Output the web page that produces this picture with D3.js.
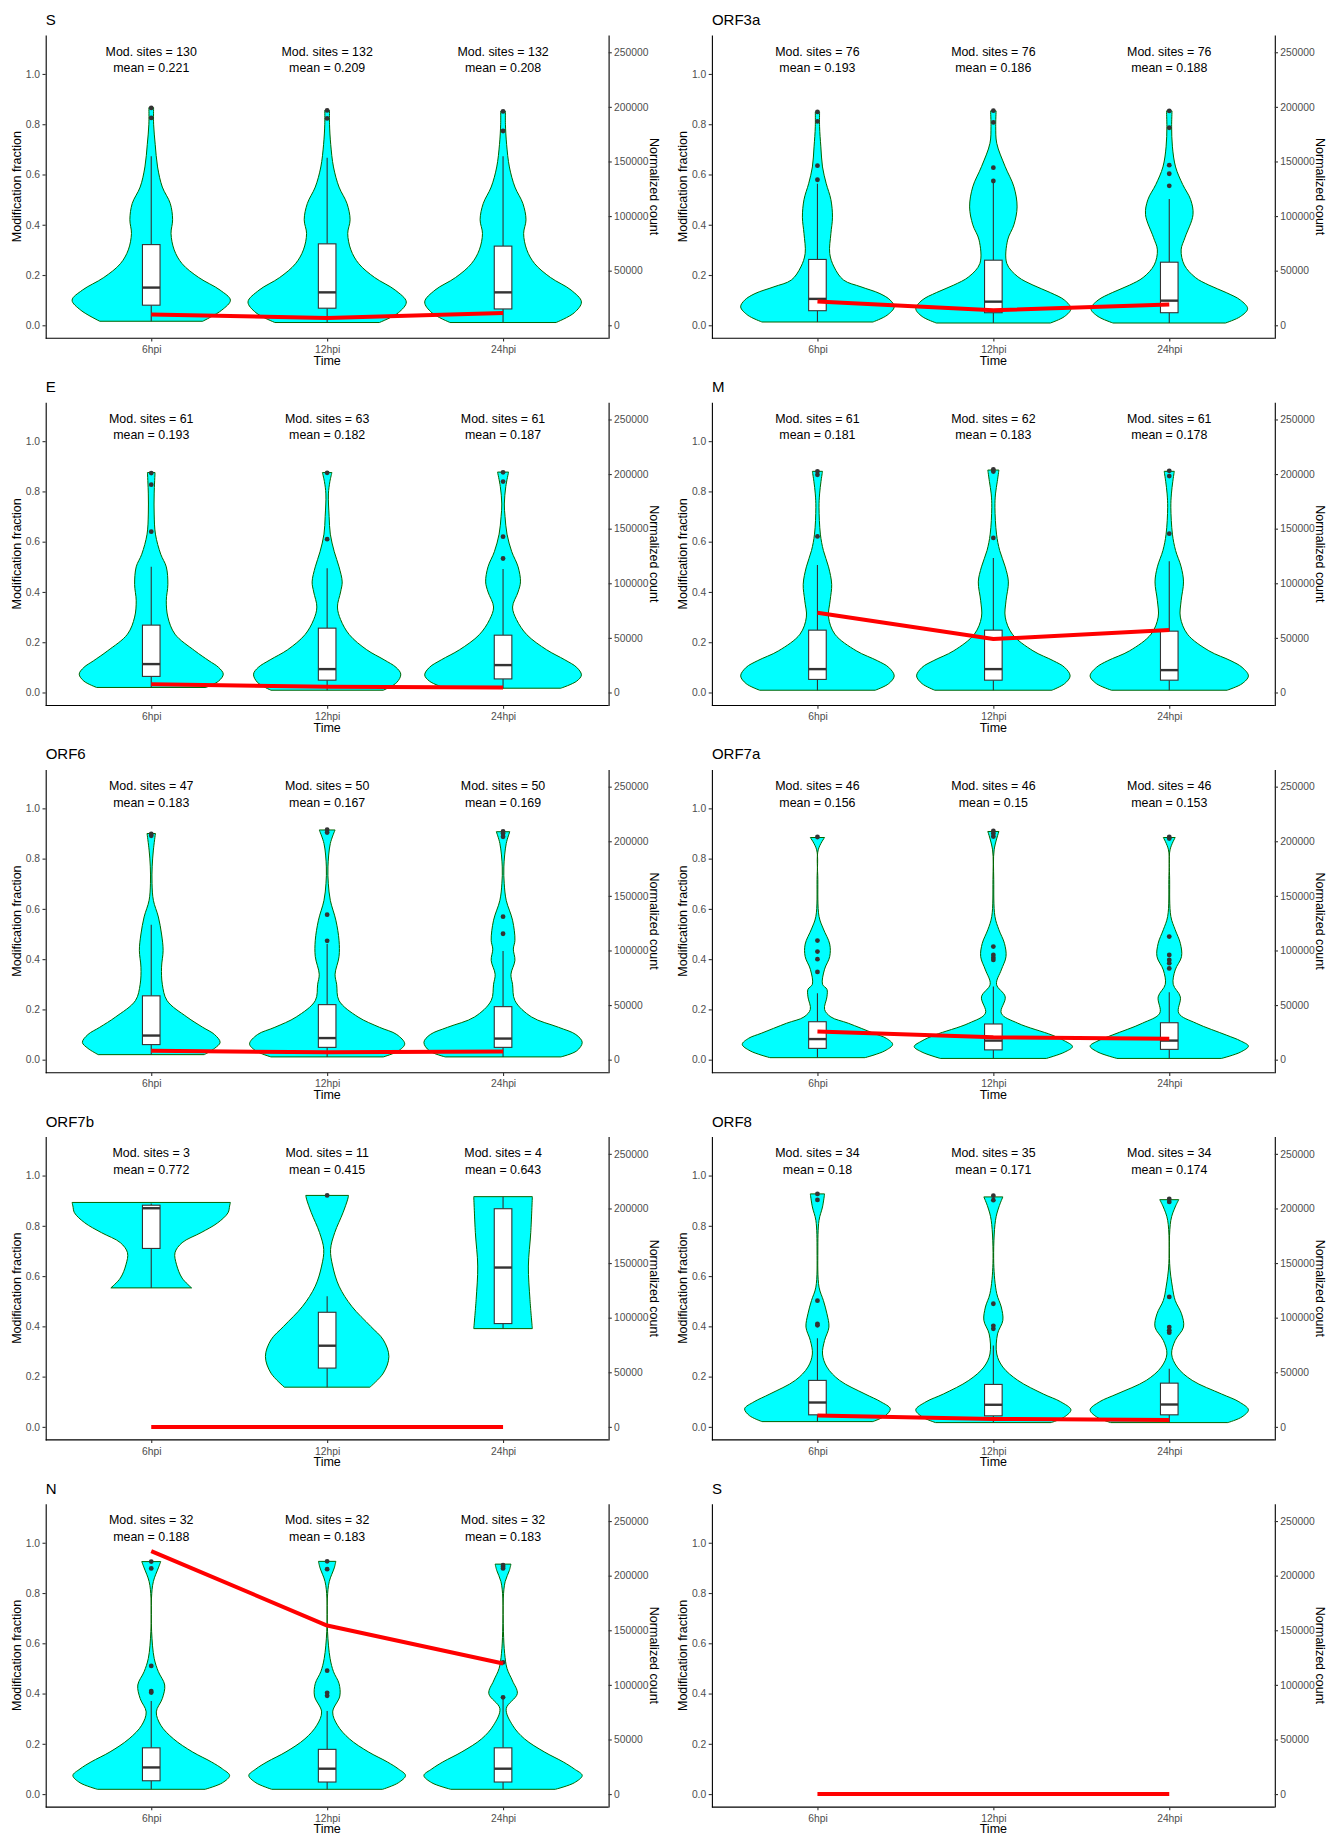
<!DOCTYPE html>
<html>
<head>
<meta charset="utf-8">
<script src="https://cdn.jsdelivr.net/npm/d3@7"></script>
<style>
  body { margin: 0; background: #fff; }
  svg text { font-family: "Liberation Sans", Arial, Helvetica, sans-serif; }
</style>
</head>
<body>
<svg id="chart" width="1328" height="1836"></svg>
<script>
// ---- data ----
const genes = ["S", "ORF3a", "E", "M", "ORF6", "ORF7a", "ORF7b", "ORF8", "N", "S"];
const times = ["6hpi", "12hpi", "24hpi"];

const modSites = [
  [130, 132, 132], [76, 76, 76], [61, 63, 61], [61, 62, 61], [47, 50, 50],
  [46, 46, 46], [3, 11, 4], [34, 35, 34], [32, 32, 32], null
];
const meanFrac = [
  [0.221, 0.209, 0.208], [0.193, 0.186, 0.188], [0.193, 0.182, 0.187], [0.181, 0.183, 0.178],
  [0.183, 0.167, 0.169], [0.156, 0.15, 0.153], [0.772, 0.415, 0.643], [0.18, 0.171, 0.174],
  [0.188, 0.183, 0.183], null
];
// normalized read count per time point (red line, right axis)
const normCount = [
  [9800, 6700, 11300], [21700, 13750, 18950], [7600, 5200, 4600], [73000, 48900, 57150],
  [8250, 6700, 7600], [25700, 20500, 19250], [0, 0, 0], [10400, 7300, 6400],
  [222500, 154300, 119500], [0, 0, 0]
];
// box stats: [q1, median, q3, whiskerLow, whiskerHigh]
const boxStats = [
  [[0.080, 0.150, 0.321, 0.016, 0.673], [0.068, 0.131, 0.324, 0.011, 0.667], [0.065, 0.131, 0.315, 0.011, 0.673]],
  [[0.058, 0.105, 0.262, 0.013, 0.563], [0.050, 0.094, 0.259, 0.009, 0.567], [0.050, 0.098, 0.251, 0.009, 0.502]],
  [[0.064, 0.113, 0.268, 0.020, 0.500], [0.049, 0.093, 0.256, 0.009, 0.494], [0.054, 0.109, 0.228, 0.017, 0.491]],
  [[0.052, 0.093, 0.248, 0.009, 0.507], [0.049, 0.093, 0.248, 0.009, 0.535], [0.049, 0.089, 0.244, 0.009, 0.522]],
  [[0.060, 0.096, 0.254, 0.020, 0.537], [0.049, 0.086, 0.219, 0.011, 0.460], [0.049, 0.084, 0.211, 0.011, 0.432]],
  [[0.045, 0.082, 0.151, 0.008, 0.264], [0.039, 0.076, 0.142, 0.005, 0.291], [0.041, 0.076, 0.147, 0.005, 0.268]],
  [[0.710, 0.870, 0.882, 0.553, 0.889], [0.234, 0.323, 0.456, 0.158, 0.520], [0.411, 0.634, 0.868, 0.391, 0.916]],
  [[0.048, 0.097, 0.185, 0.021, 0.353], [0.044, 0.088, 0.169, 0.017, 0.324], [0.048, 0.089, 0.174, 0.017, 0.231]],
  [[0.053, 0.106, 0.184, 0.019, 0.370], [0.048, 0.101, 0.178, 0.019, 0.331], [0.048, 0.101, 0.184, 0.019, 0.385]],
  []
];
const outliers = [
  [[0.865, 0.825], [0.855, 0.823], [0.851, 0.773]],
  [[0.849, 0.811, 0.635, 0.579], [0.854, 0.807, 0.627, 0.574], [0.853, 0.786, 0.637, 0.603, 0.555]],
  [[0.873, 0.827, 0.640], [0.874, 0.610], [0.876, 0.839, 0.620, 0.533]],
  [[0.880, 0.866, 0.621], [0.888, 0.879, 0.615], [0.882, 0.861, 0.632]],
  [[0.898, 0.891], [0.915, 0.904, 0.577, 0.473], [0.908, 0.900, 0.887, 0.569, 0.501]],
  [[0.886, 0.474, 0.430, 0.400, 0.349], [0.910, 0.900, 0.888, 0.450, 0.417, 0.406, 0.397], [0.886, 0.880, 0.490, 0.417, 0.397, 0.384, 0.363]],
  [[], [0.921], []],
  [[0.927, 0.903, 0.502, 0.410, 0.404], [0.920, 0.902, 0.490, 0.402, 0.390], [0.907, 0.895, 0.517, 0.397, 0.384, 0.375]],
  [[0.925, 0.898, 0.510, 0.410, 0.404], [0.926, 0.895, 0.491, 0.403, 0.391], [0.911, 0.905, 0.898, 0.524, 0.385]],
  []
];
// violin outlines: [fraction, relative half width]
const violinShapes = [
  [
    [[0.016,0.65],[0.06,0.89],[0.10,1.0],[0.14,0.87],[0.19,0.6],[0.245,0.39],[0.30,0.29],[0.365,0.25],[0.42,0.27],[0.485,0.24],[0.55,0.14],[0.63,0.08],[0.72,0.05],[0.80,0.03],[0.866,0.03]],
    [[0.011,0.66],[0.05,0.9],[0.093,1.0],[0.14,0.86],[0.19,0.6],[0.245,0.4],[0.30,0.3],[0.365,0.26],[0.42,0.29],[0.485,0.25],[0.55,0.15],[0.63,0.08],[0.72,0.045],[0.80,0.03],[0.855,0.03]],
    [[0.011,0.67],[0.05,0.9],[0.093,0.99],[0.14,0.86],[0.19,0.6],[0.245,0.4],[0.30,0.3],[0.365,0.26],[0.42,0.29],[0.485,0.25],[0.55,0.15],[0.63,0.08],[0.72,0.045],[0.80,0.03],[0.852,0.03]]
  ],
  [
    [[0.013,0.70],[0.04,0.88],[0.073,0.97],[0.10,0.92],[0.126,0.79],[0.153,0.55],[0.18,0.33],[0.232,0.21],[0.286,0.155],[0.365,0.17],[0.43,0.19],[0.5,0.17],[0.565,0.11],[0.63,0.064],[0.71,0.043],[0.79,0.027],[0.849,0.027]],
    [[0.009,0.72],[0.035,0.9],[0.066,0.98],[0.10,0.9],[0.13,0.72],[0.16,0.5],[0.193,0.31],[0.246,0.17],[0.339,0.18],[0.40,0.26],[0.471,0.30],[0.551,0.26],[0.631,0.15],[0.724,0.043],[0.79,0.03],[0.853,0.035]],
    [[0.009,0.71],[0.035,0.9],[0.066,0.99],[0.10,0.9],[0.13,0.72],[0.16,0.5],[0.19,0.33],[0.24,0.19],[0.30,0.15],[0.35,0.2],[0.44,0.3],[0.5,0.27],[0.56,0.17],[0.63,0.08],[0.71,0.04],[0.79,0.03],[0.853,0.035]]
  ],
  [
    [[0.020,0.69],[0.045,0.85],[0.073,0.91],[0.10,0.85],[0.126,0.73],[0.166,0.55],[0.232,0.30],[0.30,0.21],[0.365,0.19],[0.43,0.21],[0.5,0.19],[0.55,0.12],[0.63,0.053],[0.71,0.037],[0.79,0.037],[0.875,0.048]],
    [[0.009,0.71],[0.04,0.88],[0.073,0.93],[0.10,0.87],[0.13,0.72],[0.17,0.5],[0.23,0.28],[0.29,0.17],[0.34,0.13],[0.40,0.17],[0.44,0.19],[0.50,0.15],[0.56,0.09],[0.63,0.04],[0.70,0.025],[0.79,0.016],[0.84,0.035],[0.875,0.06]],
    [[0.017,0.73],[0.045,0.93],[0.070,0.99],[0.10,0.93],[0.13,0.78],[0.17,0.55],[0.23,0.3],[0.29,0.17],[0.34,0.12],[0.40,0.19],[0.44,0.22],[0.50,0.19],[0.56,0.11],[0.63,0.05],[0.70,0.025],[0.75,0.016],[0.82,0.035],[0.877,0.07]]
  ],
  [
    [[0.009,0.73],[0.035,0.9],[0.066,0.97],[0.10,0.9],[0.126,0.76],[0.166,0.49],[0.232,0.22],[0.30,0.14],[0.365,0.16],[0.43,0.18],[0.5,0.14],[0.565,0.075],[0.63,0.037],[0.737,0.02],[0.79,0.027],[0.84,0.045],[0.88,0.064]],
    [[0.009,0.74],[0.035,0.9],[0.066,0.97],[0.10,0.9],[0.126,0.76],[0.166,0.5],[0.232,0.24],[0.30,0.15],[0.365,0.16],[0.44,0.19],[0.5,0.15],[0.565,0.08],[0.63,0.04],[0.737,0.02],[0.79,0.027],[0.84,0.05],[0.885,0.07]],
    [[0.009,0.73],[0.035,0.92],[0.066,1.0],[0.10,0.92],[0.126,0.78],[0.166,0.5],[0.232,0.23],[0.30,0.14],[0.365,0.15],[0.44,0.18],[0.5,0.15],[0.565,0.08],[0.63,0.04],[0.737,0.02],[0.79,0.027],[0.84,0.045],[0.88,0.064]]
  ],
  [
    [[0.02,0.67],[0.045,0.8],[0.069,0.87],[0.10,0.8],[0.129,0.65],[0.17,0.45],[0.235,0.2],[0.30,0.14],[0.368,0.13],[0.435,0.15],[0.5,0.13],[0.568,0.09],[0.634,0.027],[0.70,0.01],[0.77,0.012],[0.834,0.027],[0.9,0.053]],
    [[0.011,0.71],[0.035,0.9],[0.063,0.98],[0.10,0.88],[0.129,0.66],[0.17,0.39],[0.235,0.15],[0.30,0.12],[0.34,0.10],[0.41,0.15],[0.475,0.15],[0.555,0.11],[0.634,0.04],[0.70,0.015],[0.767,0.01],[0.86,0.04],[0.914,0.1]],
    [[0.011,0.73],[0.035,0.93],[0.069,1.0],[0.10,0.92],[0.129,0.7],[0.17,0.36],[0.235,0.15],[0.30,0.12],[0.34,0.10],[0.395,0.15],[0.44,0.13],[0.475,0.15],[0.555,0.12],[0.634,0.04],[0.70,0.015],[0.767,0.01],[0.86,0.04],[0.907,0.085]]
  ],
  [
    [[0.008,0.6],[0.035,0.85],[0.061,0.95],[0.085,0.87],[0.105,0.71],[0.145,0.39],[0.17,0.17],[0.2,0.09],[0.25,0.12],[0.28,0.12],[0.30,0.064],[0.36,0.09],[0.41,0.155],[0.46,0.155],[0.52,0.075],[0.57,0.02],[0.716,0.005],[0.835,0.01],[0.884,0.09]],
    [[0.005,0.67],[0.03,0.9],[0.052,1.0],[0.075,0.9],[0.098,0.74],[0.145,0.31],[0.185,0.1],[0.25,0.15],[0.30,0.04],[0.357,0.1],[0.41,0.16],[0.463,0.14],[0.517,0.07],[0.57,0.02],[0.716,0.005],[0.835,0.01],[0.908,0.07]],
    [[0.005,0.66],[0.03,0.9],[0.054,1.0],[0.075,0.9],[0.098,0.72],[0.145,0.34],[0.185,0.12],[0.25,0.14],[0.30,0.05],[0.357,0.075],[0.41,0.155],[0.463,0.14],[0.517,0.075],[0.57,0.02],[0.716,0.005],[0.835,0.01],[0.884,0.075]]
  ],
  [
    [[0.553,0.51],[0.592,0.39],[0.645,0.32],[0.693,0.30],[0.733,0.39],[0.773,0.63],[0.812,0.84],[0.852,0.97],[0.879,0.99],[0.893,1.0]],
    [[0.158,0.54],[0.214,0.71],[0.28,0.78],[0.346,0.71],[0.40,0.55],[0.48,0.31],[0.56,0.15],[0.64,0.07],[0.706,0.043],[0.773,0.096],[0.852,0.2],[0.906,0.26],[0.921,0.27]],
    [[0.391,0.37],[0.507,0.34],[0.64,0.32],[0.773,0.35],[0.916,0.37]]
  ],
  [
    [[0.021,0.7],[0.045,0.86],[0.072,0.92],[0.10,0.8],[0.131,0.6],[0.185,0.28],[0.238,0.12],[0.29,0.064],[0.344,0.09],[0.397,0.145],[0.45,0.12],[0.503,0.075],[0.556,0.02],[0.70,0.005],[0.822,0.02],[0.875,0.064],[0.927,0.09]],
    [[0.017,0.73],[0.04,0.9],[0.068,0.98],[0.10,0.85],[0.131,0.63],[0.185,0.31],[0.238,0.12],[0.29,0.043],[0.37,0.053],[0.424,0.12],[0.477,0.1],[0.53,0.043],[0.65,0.005],[0.822,0.027],[0.875,0.07],[0.915,0.12]],
    [[0.017,0.74],[0.04,0.92],[0.068,1.0],[0.10,0.88],[0.131,0.66],[0.185,0.29],[0.238,0.1],[0.29,0.03],[0.344,0.075],[0.397,0.18],[0.45,0.155],[0.503,0.075],[0.556,0.04],[0.65,0.005],[0.822,0.02],[0.875,0.075],[0.904,0.12]]
  ],
  [
    [[0.019,0.68],[0.045,0.9],[0.074,0.99],[0.10,0.9],[0.128,0.76],[0.168,0.52],[0.22,0.28],[0.274,0.12],[0.327,0.064],[0.38,0.14],[0.434,0.17],[0.487,0.09],[0.54,0.037],[0.646,0.005],[0.78,0.003],[0.846,0.027],[0.9,0.09],[0.925,0.12]],
    [[0.019,0.70],[0.045,0.9],[0.074,0.99],[0.10,0.9],[0.128,0.76],[0.168,0.52],[0.22,0.28],[0.274,0.13],[0.327,0.07],[0.39,0.16],[0.44,0.15],[0.487,0.08],[0.54,0.037],[0.646,0.005],[0.78,0.003],[0.846,0.027],[0.9,0.09],[0.926,0.11]],
    [[0.019,0.66],[0.045,0.9],[0.074,1.0],[0.10,0.9],[0.128,0.76],[0.168,0.52],[0.22,0.27],[0.274,0.12],[0.34,0.04],[0.40,0.18],[0.45,0.12],[0.50,0.05],[0.56,0.02],[0.646,0.005],[0.78,0.003],[0.846,0.027],[0.89,0.08],[0.915,0.1]]
  ],
  []
];
const fracTicks = [0, 0.2, 0.4, 0.6, 0.8, 1.0];
const countTicks = [0, 50000, 100000, 150000, 200000, 250000];
const countPerFraction = 230134; // sec axis: count = fraction * this

// ---- layout ----
const rowH = 367.2, colX = [0, 666.2];
const plotL = 45.7, plotR = 608.6, plotT = 35, plotB = 338.3;
const FONT = '"Liberation Sans", Arial, Helvetica, sans-serif';

const svg = d3.select("#chart");

const x = d3.scalePoint().domain(times).range([plotL, plotR]).padding(0.6);
const y = d3.scaleLinear().domain([-0.0518, 1.155]).range([plotB, plotT]);
const yCount = d3.scaleLinear().domain(y.domain().map(v => v * countPerFraction)).range(y.range());
const halfW = d3.scaleLinear().domain([0, 1]).range([0, x.step() * 0.45]);
const boxW = x.step() * 0.1;

function styleAxis(g) {
  g.attr("font-family", FONT).attr("font-size", 10.3);
  g.select(".domain").attr("stroke", "#000").attr("stroke-width", 1.1);
  g.selectAll(".tick line").attr("stroke", "#333").attr("stroke-width", 1.1);
  g.selectAll(".tick text").attr("fill", "#4D4D4D");
}

genes.forEach((gene, i) => {
  const col = i % 2, row = Math.floor(i / 2);
  const panel = svg.append("g").attr("transform", `translate(${colX[col]},${row * rowH})`);

  // violins, boxes, outliers
  const shapes = violinShapes[i];
  shapes.forEach((shape, j) => {
    const cx = x(times[j]);
    const area = d3.area()
      .y(d => y(d[0]))
      .x0(d => cx - halfW(d[1]))
      .x1(d => cx + halfW(d[1]))
      .curve(d3.curveCatmullRom.alpha(0.5));
    panel.append("path")
      .attr("d", area(shape))
      .attr("fill", "#00FFFF")
      .attr("stroke", "#006400")
      .attr("stroke-width", 1);

    const [q1, med, q3, lo, hi] = boxStats[i][j];
    const bx = panel.append("g").attr("stroke", "#333333");
    bx.append("line").attr("x1", cx).attr("x2", cx).attr("y1", y(hi)).attr("y2", y(q3)).attr("stroke-width", 1.1);
    bx.append("line").attr("x1", cx).attr("x2", cx).attr("y1", y(q1)).attr("y2", y(lo)).attr("stroke-width", 1.1);
    bx.append("rect")
      .attr("x", cx - boxW / 2).attr("width", boxW)
      .attr("y", y(q3)).attr("height", y(q1) - y(q3))
      .attr("fill", "#fff").attr("stroke-width", 1.1);
    bx.append("line").attr("x1", cx - boxW / 2).attr("x2", cx + boxW / 2)
      .attr("y1", y(med)).attr("y2", y(med)).attr("stroke-width", 2.4);

    panel.append("g").selectAll("circle")
      .data(outliers[i][j])
      .join("circle")
      .attr("cx", cx).attr("cy", d => y(d)).attr("r", 2.4)
      .attr("fill", "#333333");
  });

  // red count line
  const line = d3.line().x((d, j) => x(times[j])).y(d => yCount(d));
  panel.append("path")
    .attr("d", line(normCount[i]))
    .attr("fill", "none")
    .attr("stroke", "#FF0000")
    .attr("stroke-width", 4)
    .attr("stroke-linejoin", "round");

  // annotations
  if (modSites[i]) {
    const lab = panel.append("g").attr("font-family", FONT).attr("font-size", 12.4)
      .attr("text-anchor", "middle").attr("fill", "#000").style("white-space", "pre");
    times.forEach((t, j) => {
      lab.append("text").attr("x", x(t)).attr("y", y(1.0) - 18.3)
        .text(`Mod. sites = ${modSites[i][j]} `);
      lab.append("text").attr("x", x(t)).attr("y", y(1.0) - 1.7)
        .text(` mean =  ${meanFrac[i][j]}`);
    });
  }

  // axes
  panel.append("g").attr("transform", `translate(${plotL},0)`)
    .call(d3.axisLeft(y).tickValues(fracTicks).tickFormat(d3.format(".1f")).tickSize(3.2).tickSizeOuter(0).tickPadding(2.5))
    .call(styleAxis);
  panel.append("g").attr("transform", `translate(${plotR},0)`)
    .call(d3.axisRight(yCount).tickValues(countTicks).tickFormat(d3.format("d")).tickSize(3.2).tickSizeOuter(0).tickPadding(2.3))
    .call(styleAxis);
  panel.append("g").attr("transform", `translate(0,${plotB})`)
    .call(d3.axisBottom(x).tickSize(3.2).tickSizeOuter(0).tickPadding(4.2))
    .call(styleAxis)
    .call(g => g.select(".domain").attr("d", `M${plotL},0H${plotR}`));

  // titles
  panel.append("text").attr("x", plotL).attr("y", 25)
    .attr("font-size", 15).attr("fill", "#000").text(gene);
  panel.append("text").attr("x", (plotL + plotR) / 2).attr("y", 364.5)
    .attr("text-anchor", "middle").attr("font-size", 12.5).attr("fill", "#000").text("Time");
  panel.append("text")
    .attr("transform", `translate(21,${(plotT + plotB) / 2}) rotate(-90)`)
    .attr("text-anchor", "middle").attr("font-size", 12.5).attr("fill", "#000").text("Modification fraction");
  panel.append("text")
    .attr("transform", `translate(650,${(plotT + plotB) / 2}) rotate(90)`)
    .attr("text-anchor", "middle").attr("font-size", 12.5).attr("fill", "#000").text("Normalized count");
});
</script>
</body>
</html>
